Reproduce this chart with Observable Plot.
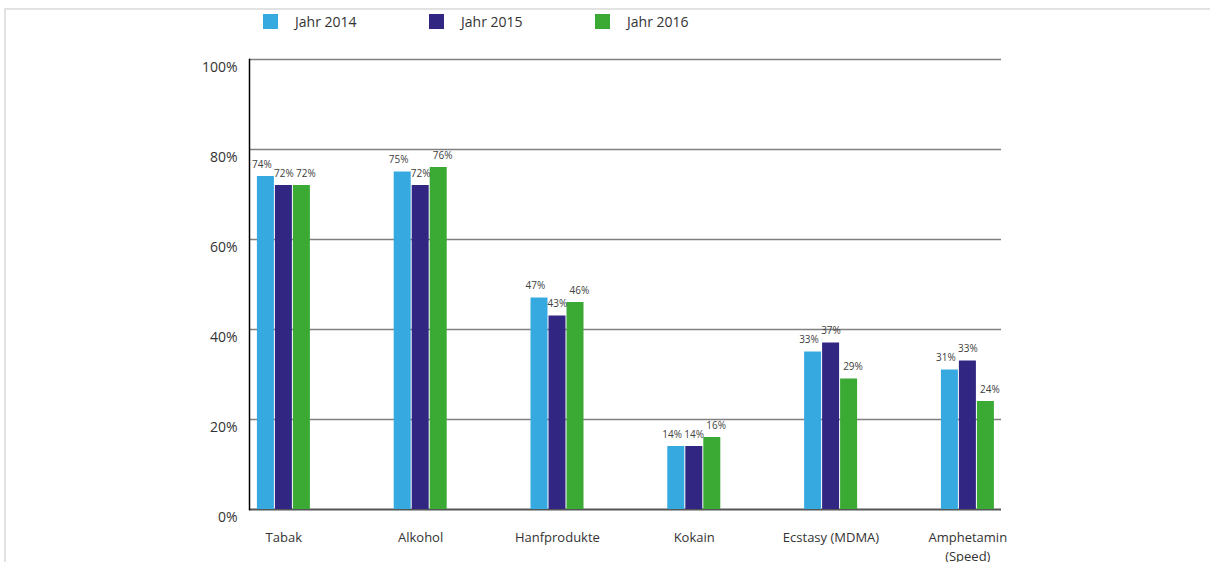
<!DOCTYPE html>
<html>
<head>
<meta charset="utf-8">
<script src="https://cdn.jsdelivr.net/npm/d3@7"></script>
<script src="https://cdn.jsdelivr.net/npm/@observablehq/plot@0.6"></script>
<style>
  html, body { margin: 0; padding: 0; background: #fff; }
  #wrap { position: relative; width: 1210px; height: 562px; overflow: hidden; font-family: "Open Sans", sans-serif; }
  #border { position: absolute; left: 4px; top: 8px; right: -10px; bottom: -10px; border-top: 2px solid #e2e2e2; border-left: 2px solid #e2e2e2; }
  #legend { position: absolute; left: 263px; top: 13px; display: flex; }
  .item { display: flex; align-items: center; width: 166px; font-size: 14px; color: #333; height: 16px; }
  .sw { width: 15px; height: 15px; margin-right: 17px; flex: none; }
  #chart { position: absolute; left: 0; top: 0; }
</style>
</head>
<body>
<div id="wrap">
  <div id="border"></div>
  <div id="chart"></div>
  <div id="legend"></div>
</div>
<script>
const categories = ["Tabak", "Alkohol", "Hanfprodukte", "Kokain", "Ecstasy (MDMA)", "Amphetamin (Speed)"];
const series = ["Jahr 2014", "Jahr 2015", "Jahr 2016"];
const colors = ["#36a9e1", "#312783", "#3aaa35"];
const values2014 = [74, 75, 47, 14, 35, 31];
const values2015 = [72, 72, 43, 14, 37, 33];
const values2016 = [72, 76, 46, 16, 29, 24];
const labels2014 = ["74%", "75%", "47%", "14%", "33%", "31%"];
const labels2015 = ["72%", "72%", "43%", "14%", "37%", "33%"];
const labels2016 = ["72%", "76%", "46%", "16%", "29%", "24%"];
const yTicks = [0, 20, 40, 60, 80, 100];

const rows = (vals, labs) => categories.map((c, i) => ({cat: c, value: vals[i], label: labs[i]}));
const d14 = rows(values2014, labels2014);
const d15 = rows(values2015, labels2015);
const d16 = rows(values2016, labels2016);

const bandW = 136.8;
const barOpts = (left, right) => ({x: "cat", y: "value", insetLeft: left, insetRight: bandW - right});
const labelOpts = (dx) => ({x: "cat", y: "value", text: "label", dx, dy: -12, fontSize: 10, fill: "#404040", fontFamily: "Open Sans"});

const chart = Plot.plot({
  width: 1210,
  height: 562,
  marginLeft: 249,
  marginRight: 209,
  marginTop: 59,
  marginBottom: 53,
  style: {fontFamily: "Open Sans", background: "transparent", color: "#333"},
  x: {type: "band", domain: categories, range: [214.9, 214.9 + bandW * 6], padding: 0, round: false},
  y: {domain: [0, 100]},
  marks: [
    Plot.ruleY(yTicks.filter(d => d > 0), {stroke: "#808080", strokeWidth: 1.6}),
    Plot.ruleY([0], {stroke: "#555", strokeWidth: 2}),
    Plot.frame({anchor: "left", stroke: "#000", strokeWidth: 1.5}),
    Plot.barY(d14, {...barOpts(42, 59), fill: colors[0]}),
    Plot.barY(d15, {...barOpts(60, 77), fill: colors[1]}),
    Plot.barY(d16, {...barOpts(78, 95), fill: colors[2]}),
    Plot.text(d14, labelOpts(-22)),
    Plot.text(d15, labelOpts(0)),
    Plot.text(d16, labelOpts(22)),
    Plot.axisY({ticks: yTicks, tickSize: 0, tickPadding: 12, tickFormat: d => d + "%", fontSize: 14, dy: 8, label: null, fill: "#333"}),
    Plot.axisX({tickSize: 0, tickPadding: 20, fontSize: 13, label: null, fill: "#333", lineHeight: 1.4,
      tickFormat: d => d === "Amphetamin (Speed)" ? "Amphetamin\n(Speed)" : d})
  ]
});
document.getElementById("chart").appendChild(chart);

const legend = document.getElementById("legend");
series.forEach((s, i) => {
  const item = document.createElement("div");
  item.className = "item";
  const sw = document.createElement("span");
  sw.className = "sw";
  sw.style.background = colors[i];
  const t = document.createElement("span");
  t.textContent = s;
  item.appendChild(sw);
  item.appendChild(t);
  legend.appendChild(item);
});
</script>
</body>
</html>
